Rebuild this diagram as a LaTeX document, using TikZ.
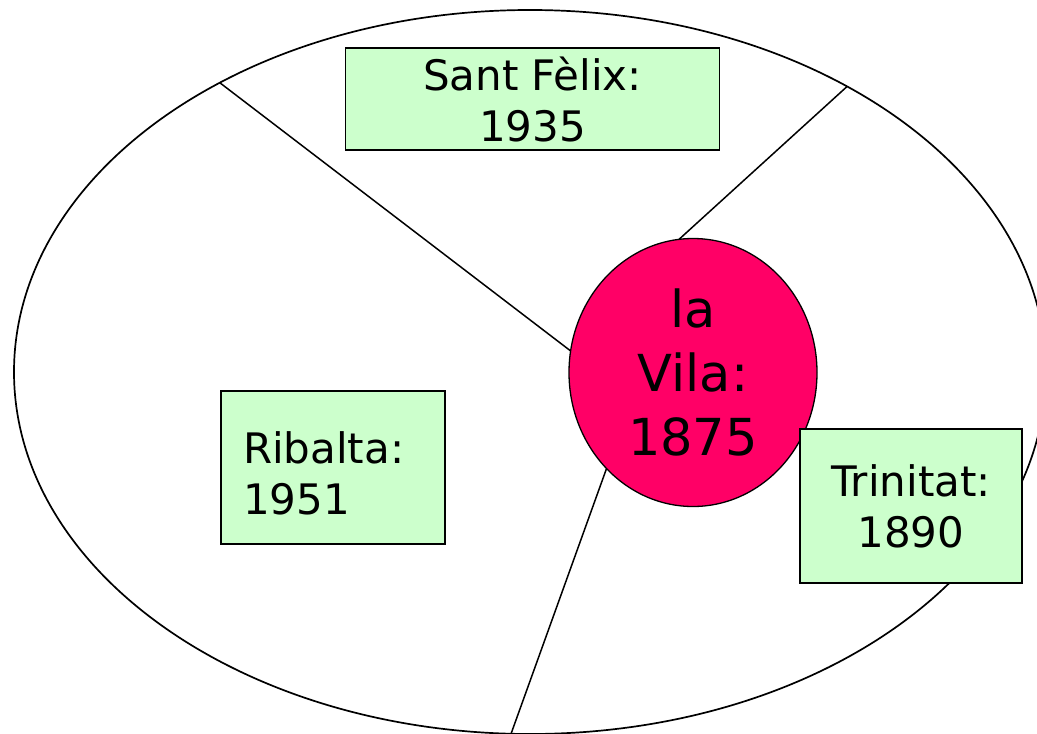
\documentclass[tikz,border=0pt]{standalone}
\usepackage{fontspec}
\setmainfont{DejaVu Sans}
\usetikzlibrary{shapes.geometric, backgrounds}
\definecolor{verdclar}{RGB}{204,255,204}
\definecolor{rosa}{RGB}{255,0,102}
\tikzset{
    ciutat/.style={ellipse, draw, line width=1.7pt, minimum width=1032pt, minimum height=724pt, inner sep=0pt, outer sep=0pt},
    barri/.style={draw, fill=verdclar, line width=1.5pt, inner sep=0pt, outer sep=0pt, font=\fontsize{42}{51}\selectfont},
    centre/.style={ellipse, draw, fill=rosa, line width=1.3pt, minimum width=248pt, minimum height=268pt, inner sep=0pt, outer sep=0pt, align=center, font=\fontsize{51}{64}\selectfont},
    limit/.style={line width=1.5pt},
}

\begin{document}
\begin{tikzpicture}[x=1pt, y=-1pt]
    \clip (0,0) rectangle (1037,734);
    % Ciutat
    \node[ciutat] (city) at (530,372) {};
    \node[centre] (vila) at (693,372.5) {la\\Vila:\\1875};

    % Barris
    \node[barri, align=center, minimum width=374pt, minimum height=102pt] (felix) at (532.5,99) {Sant Fèlix:\\1935};
    \node[barri, align=left, text width=180pt, text height=44pt, minimum width=224pt, minimum height=153pt] (ribalta) at (333,467.5) {Ribalta:\\1951};
    \node[barri, align=center, minimum width=222pt, minimum height=154pt] (trinitat) at (911,506) {Trinitat:\\1890};

    % Limits
    \begin{scope}[on background layer]
        \draw[limit] (city.137.3) -- (vila.170.7);
        \draw[limit] (city.42.4) -- (vila.96.9);
        \draw[limit] (city.267.2) -- (vila.228.3);
    \end{scope}
\end{tikzpicture}
\end{document}
